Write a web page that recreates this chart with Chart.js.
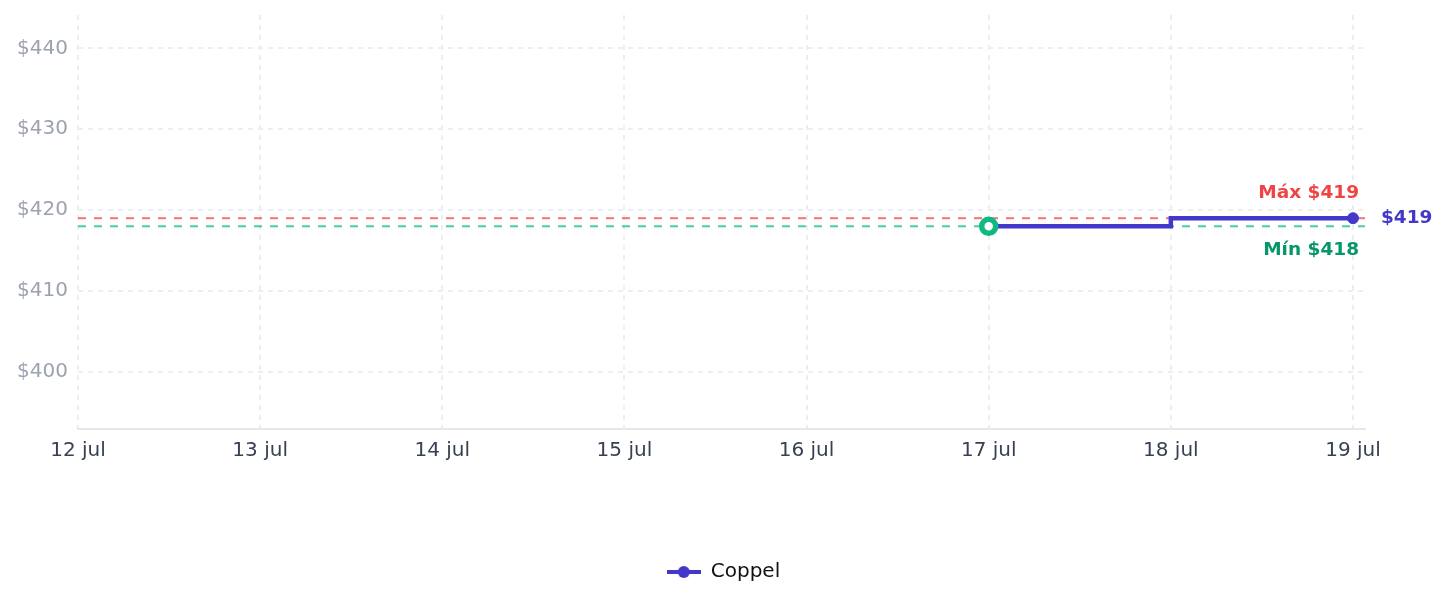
<!DOCTYPE html>
<html>
<head>
<meta charset="utf-8">
<script src="https://cdn.jsdelivr.net/npm/chart.js@4/dist/chart.umd.min.js"></script>
<style>
  html, body { margin: 0; padding: 0; background: #fff; }
  #wrap { width: 1447px; height: 607px; }
</style>
</head>
<body>
<div id="wrap"><canvas id="priceChart"></canvas></div>
<script>
// data
var dayTicks = [12, 13, 14, 15, 16, 17, 18, 19];
var monthLabel = 'jul';
var days = [17, 18, 19];
var prices = [418, 419, 419];
var seriesName = 'Coppel';
var maxPrice = 419;
var minPrice = 418;

var purple = '#4338ca';
var green = '#10b981';

Chart.defaults.font.family = "'DejaVu Sans', sans-serif";

// legend icon: line with a dot
var legendIcon = document.createElement('canvas');
legendIcon.width = 34;
legendIcon.height = 14;
(function () {
    var c = legendIcon.getContext('2d');
    c.strokeStyle = purple;
    c.lineWidth = 4;
    c.beginPath();
    c.moveTo(0, 7);
    c.lineTo(34, 7);
    c.stroke();
    c.fillStyle = purple;
    c.beginPath();
    c.arc(17, 7, 6, 0, Math.PI * 2);
    c.fill();
})();

var refLines = {
    id: 'refLines',
    beforeDatasetsDraw: function (chart) {
        var ctx = chart.ctx, area = chart.chartArea, y = chart.scales.y;
        ctx.save();
        ctx.lineWidth = 2;
        ctx.setLineDash([8, 8]);
        [[maxPrice, 'rgba(239,68,68,0.75)'], [minPrice, 'rgba(16,185,129,0.75)']].forEach(function (r) {
            var py = y.getPixelForValue(r[0]);
            ctx.strokeStyle = r[1];
            ctx.beginPath();
            ctx.moveTo(area.left, py);
            ctx.lineTo(area.right, py);
            ctx.stroke();
        });
        ctx.restore();
    },
    afterDatasetsDraw: function (chart) {
        var ctx = chart.ctx, area = chart.chartArea, y = chart.scales.y;
        ctx.save();
        ctx.font = "bold 18.5px 'DejaVu Sans', sans-serif";
        ctx.textBaseline = 'middle';
        ctx.textAlign = 'right';
        ctx.fillStyle = '#ef4444';
        ctx.fillText('Máx $' + maxPrice, area.right - 6, y.getPixelForValue(maxPrice) - 25);
        ctx.fillStyle = '#059669';
        ctx.fillText('Mín $' + minPrice, area.right - 6, y.getPixelForValue(minPrice) + 24);
        ctx.textAlign = 'left';
        ctx.fillStyle = purple;
        var last = prices[prices.length - 1];
        ctx.fillText('$' + last, area.right + 16, y.getPixelForValue(last));
        ctx.restore();
    }
};

var ctx = document.getElementById('priceChart');
new Chart(ctx, {
    type: 'line',
    data: {
        datasets: [{
            label: seriesName,
            data: days.map(function (d, i) { return { x: d, y: prices[i] }; }),
            borderColor: purple,
            backgroundColor: purple,
            borderWidth: 4.5,
            stepped: true,
            pointRadius: [7, 0, 5.5],
            pointBorderWidth: [5.5, 0, 1],
            pointBackgroundColor: ['#ffffff', purple, purple],
            pointBorderColor: [green, purple, purple],
            clip: false
        }]
    },
    options: {
        responsive: true,
        maintainAspectRatio: false,
        animation: false,
        layout: {
            padding: { left: 0, right: 0, top: 15, bottom: 15 }
        },
        plugins: {
            tooltip: { enabled: false },
            legend: {
                position: 'bottom',
                labels: {
                    usePointStyle: true,
                    pointStyleWidth: 34,
                    color: '#111111',
                    font: { size: 20 },
                    padding: 10,
                    generateLabels: function (chart) {
                        var items = Chart.defaults.plugins.legend.labels.generateLabels(chart);
                        items.forEach(function (it) { it.pointStyle = legendIcon; });
                        return items;
                    }
                }
            }
        },
        scales: {
            x: {
                type: 'linear',
                min: dayTicks[0],
                max: dayTicks[dayTicks.length - 1] + 0.066,
                afterFit: function (scale) {
                    scale.height = 123;
                    scale.paddingLeft = 0;
                    scale.paddingRight = 0;
                },
                ticks: {
                    stepSize: 1,
                    includeBounds: false,
                    padding: 10,
                    color: '#374151',
                    font: { size: 20 },
                    maxRotation: 0,
                    callback: function (v) { return v + ' ' + monthLabel; }
                },
                grid: { color: '#eeeeee', lineWidth: 2, drawTicks: false },
                border: { display: true, color: '#e5e7eb', width: 2, dash: [5, 5] }
            },
            y: {
                min: minPrice * 0.94,
                max: maxPrice * 1.06,
                afterFit: function (scale) {
                    scale.width = 78;
                    scale.paddingTop = 0;
                    scale.paddingBottom = 0;
                },
                ticks: {
                    stepSize: 10,
                    includeBounds: false,
                    padding: 10,
                    color: '#9ca3af',
                    font: { size: 20 },
                    callback: function (v) { return '$' + v; }
                },
                grid: { color: '#eeeeee', lineWidth: 2, drawTicks: false },
                border: { display: false, dash: [5, 5] }
            },
            yRight: {
                position: 'right',
                afterFit: function (scale) {
                    scale.width = 82;
                    scale.paddingTop = 0;
                    scale.paddingBottom = 0;
                },
                ticks: { display: false },
                grid: { display: false, drawTicks: false },
                border: { display: false }
            }
        }
    },
    plugins: [refLines]
});
</script>
</body>
</html>
